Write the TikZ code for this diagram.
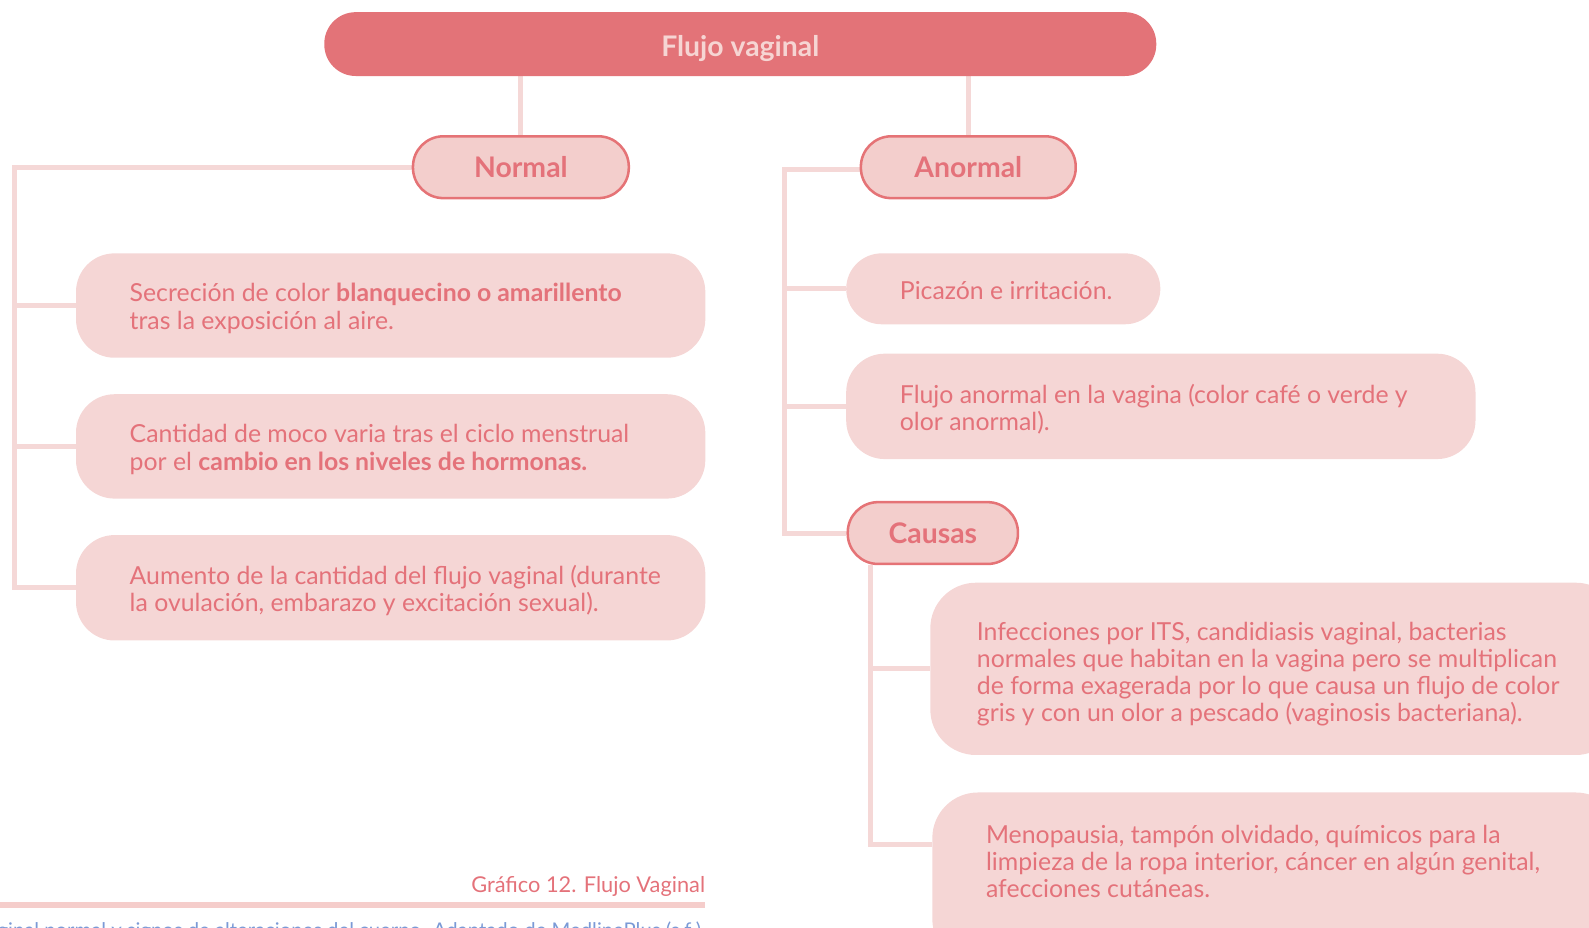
\documentclass[tikz,border=0pt]{standalone}
\usepackage{fontspec}
\setmainfont{Lato}
\usetikzlibrary{backgrounds}
\definecolor{headfill}{HTML}{E37378}
\definecolor{headtext}{HTML}{F6D5D3}
\definecolor{pinktext}{HTML}{E4727A}
\definecolor{pillfill}{HTML}{F3CECC}
\definecolor{pilledge}{HTML}{E57376}
\definecolor{boxfill}{HTML}{F5D6D5}
\definecolor{linkcol}{HTML}{F5D8D7}
\definecolor{barcol}{HTML}{F5CDCB}
\definecolor{srccol}{HTML}{7B9AD6}
\tikzset{
  headbox/.style={fill=headfill, rounded corners=31pt, minimum width=821pt, minimum height=63pt,
    text=headtext, font=\fontsize{28}{32}\selectfont\bfseries, inner sep=0pt},
  pill/.style={fill=pillfill, draw=pilledge, line width=2.5pt, rounded corners=30pt,
    minimum height=61pt, text=pinktext, font=\fontsize{28}{32}\selectfont\bfseries, inner sep=0pt},
  infobox/.style={fill=boxfill, rounded corners=38pt, inner sep=0pt},
  infotext/.style={anchor=west, align=left, text=pinktext, inner sep=0pt,
    font=\fontsize{24.5}{27}\selectfont},
  link/.style={draw=linkcol, line width=5pt},
}
\begin{document}
\begin{tikzpicture}[x=1pt,y=-1pt]
\useasboundingbox (0,0) rectangle (1568,915);
\clip (0,0) rectangle (1568,915);

% top heading
\node[headbox, text depth=0pt] (head) at (730.5,43.5) {\raisebox{-4pt}{Flujo vaginal}};

% branch headings
\node[pill, minimum width=213pt] (normal) at (514,165) {Normal};
\node[pill, minimum width=212pt] (anormal) at (955.5,165) {Anormal};
\node[pill, minimum width=168pt] (causas) at (920.5,526) {Causas};

% normal discharge boxes
\node[infobox, minimum width=621pt, minimum height=103pt] (b1) at (385.5,301.5) {};
\node[infobox, minimum width=621pt, minimum height=103pt] (b2) at (385.5,440.5) {};
\node[infobox, minimum width=621pt, minimum height=104pt] (b3) at (385.5,580) {};
\node[infotext] (t1) at ([xshift=53pt,yshift=-3pt]b1.west)
  {Secreción de color {\bfseries blanquecino o amarillento}\\tras la exposición al aire.};
\node[infotext] (t2) at ([xshift=53pt,yshift=-3pt]b2.west)
  {Cantidad de moco varia tras el ciclo menstrual\\por el {\bfseries cambio en los niveles de hormonas.}};
\node[infotext] (t3) at ([xshift=53pt,yshift=-3pt]b3.west)
  {Aumento de la cantidad del flujo vaginal (durante\\la ovulación, embarazo y excitación sexual).};

% abnormal discharge boxes
\node[infobox, minimum width=310pt, minimum height=70pt, rounded corners=35pt] (p1) at (990,285) {};
\node[infobox, minimum width=621pt, minimum height=104pt] (p2) at (1145.5,401) {};
\node[infotext] (u1) at ([xshift=53pt,yshift=-2pt]p1.west) {Picazón e irritación.};
\node[infotext] (u2) at ([xshift=53pt,yshift=-3pt]p2.west)
  {Flujo anormal en la vagina (color café o verde y\\olor anormal).};

% causes
\node[infobox, minimum width=682pt, minimum height=170pt, rounded corners=45pt] (c1) at (1259,660) {};
\node[infobox, minimum width=680pt, minimum height=170pt, rounded corners=45pt] (c2) at (1260,867) {};
\node[infotext, font=\fontsize{24.5}{26.5}\selectfont] (v1) at ([xshift=46pt,yshift=-5pt]c1.west)
  {Infecciones por ITS, candidiasis vaginal, bacterias\\normales que habitan en la vagina pero se multiplican\\de forma exagerada por lo que causa un flujo de color\\gris y con un olor a pescado (vaginosis bacteriana).};
\node[infotext] (v2) at ([xshift=53pt,yshift=17pt]c2.west)
  {Menopausia, tampón olvidado, químicos para la\\limpieza de la ropa interior, cáncer en algún genital,\\afecciones cutáneas.};

% connectors
\coordinate (lspine) at (14,580);
\coordinate (rspine) at (774,526);
\coordinate (cspine) at (859,833);
\begin{scope}[on background layer]
\draw[link] (head.south -| normal.north) -- (normal.north);
\draw[link] (head.south -| anormal.north) -- (anormal.north);
\draw[link] (normal.west) -| (lspine) -- (b3.west);
\draw[link] (b1.west) -- (b1.west -| lspine);
\draw[link] (b2.west) -- (b2.west -| lspine);
\draw[link] ([yshift=-2pt]anormal.west) -| (rspine) -- (causas.west);
\draw[link] (p1.west) -- (p1.west -| rspine);
\draw[link] (p2.west) -- (p2.west -| rspine);
\draw[link] (causas.south -| cspine) -- (cspine) -- (cspine -| c2.west);
\draw[link] (c1.west) -- (c1.west -| cspine);
\end{scope}

% caption, rule and source line
\node[anchor=east, text=pinktext, inner sep=0pt, font=\fontsize{21.5}{24}\selectfont] (cap) at (696,875) {Gráfico 12. Flujo Vaginal};
\fill[barcol] (0,890) rectangle (696,896);
\node[anchor=north east, text=srccol, inner sep=0pt, font=\fontsize{20}{22}\selectfont] (src) at (692,909)
  {/ flujo vaginal normal y signos de alteraciones del cuerpo. Adaptado de MedlinePlus (s.f.)};
\end{tikzpicture}
\end{document}
